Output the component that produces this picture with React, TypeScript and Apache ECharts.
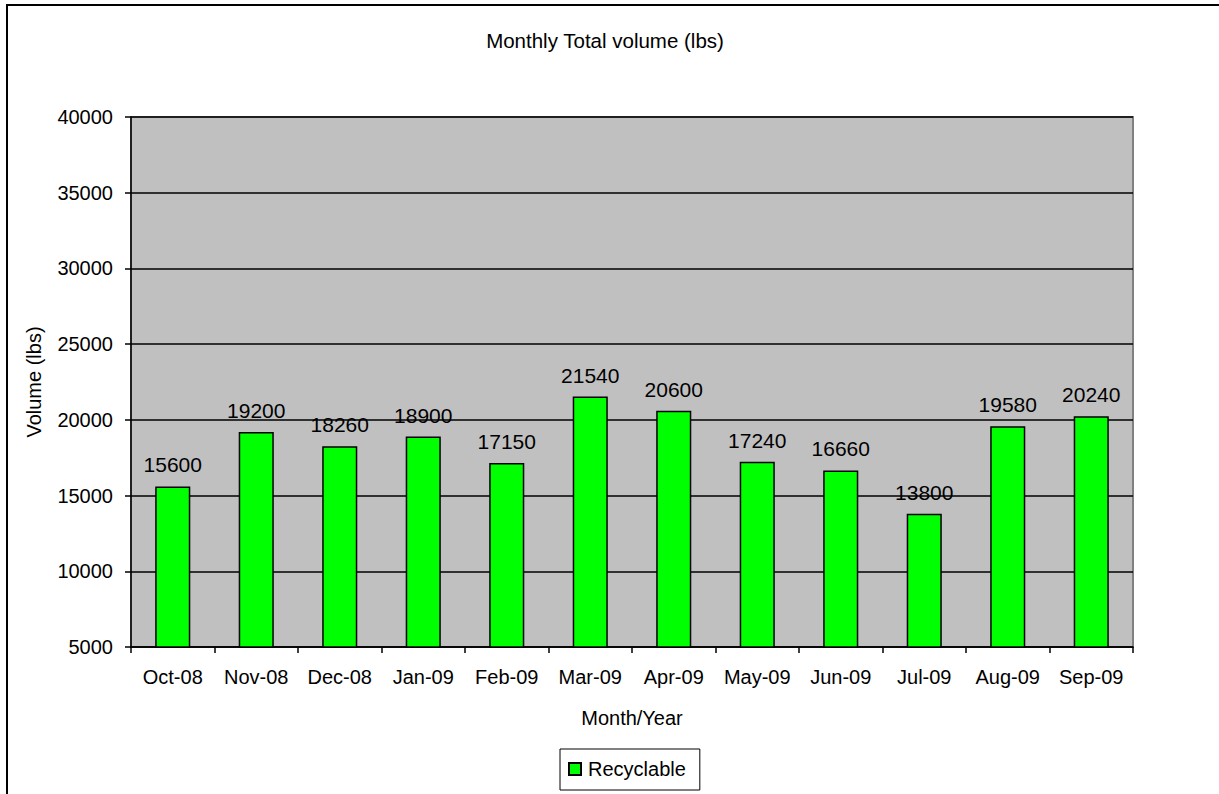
import React, { useEffect, useRef } from "react";
import * as echarts from "echarts";

const categories = ["Oct-08", "Nov-08", "Dec-08", "Jan-09", "Feb-09", "Mar-09", "Apr-09", "May-09", "Jun-09", "Jul-09", "Aug-09", "Sep-09"];
const recyclable = [15600, 19200, 18260, 18900, 17150, 21540, 20600, 17240, 16660, 13800, 19580, 20240];
const seriesName = "Recyclable";
const chartTitle = "Monthly Total volume (lbs)";
const yAxisName = "Volume (lbs)";
const xAxisName = "Month/Year";

const FONT = 'Arial, "Liberation Sans", sans-serif';

export default function App() {
  const ref = useRef<HTMLDivElement>(null);
  useEffect(() => {
    document.body.style.margin = "0";
    if (!ref.current) return;
    const chart = echarts.init(ref.current, null, { renderer: "svg" });
    chart.setOption({
      animation: false,
      backgroundColor: "#ffffff",
      textStyle: { fontFamily: FONT, color: "#000" },
      title: {
        text: chartTitle,
        left: 605,
        textAlign: "center",
        top: 30,
        padding: 0,
        textStyle: { fontFamily: FONT, fontSize: 20.5, fontWeight: "normal", color: "#000" },
      },
      graphic: [
        {
          type: "rect",
          shape: { x: 7, y: 5, width: 1400, height: 1000 },
          style: { fill: "none", stroke: "#000", lineWidth: 2 },
          silent: true,
          z: 100,
        },
      ],
      legend: {
        data: [seriesName],
        left: 560,
        top: 749,
        padding: [10, 14, 11, 8],
        itemWidth: 12,
        itemHeight: 12,
        itemGap: 0,
        icon: "rect",
        borderColor: "#000",
        borderWidth: 1,
        textStyle: { fontFamily: FONT, fontSize: 20, color: "#000", padding: [0, 0, 0, 2] },
      },
      grid: {
        left: 131,
        top: 117,
        right: 86,
        bottom: 147,
        show: true,
        backgroundColor: "#C0C0C0",
        borderColor: "#808080",
        borderWidth: 2,
      },
      xAxis: {
        type: "category",
        data: categories,
        name: xAxisName,
        nameLocation: "middle",
        nameGap: 61,
        nameTextStyle: { fontFamily: FONT, fontSize: 20, color: "#000" },
        axisLine: { lineStyle: { color: "#000", width: 1.5 } },
        axisTick: { show: true, length: 6, lineStyle: { color: "#000", width: 1.5 } },
        axisLabel: { fontFamily: FONT, fontSize: 20, color: "#000", margin: 20, interval: 0 },
      },
      yAxis: {
        type: "value",
        min: 5000,
        max: 40000,
        interval: 5000,
        name: yAxisName,
        nameLocation: "middle",
        nameGap: 87,
        nameRotate: 90,
        nameTextStyle: { fontFamily: FONT, fontSize: 20, color: "#000" },
        axisLine: { show: true, lineStyle: { color: "#000", width: 1.5 } },
        axisTick: { show: true, length: 6, lineStyle: { color: "#000", width: 1.5 } },
        axisLabel: { fontFamily: FONT, fontSize: 20, color: "#000", margin: 18, formatter: (v: number) => String(v) },
        splitLine: { show: true, lineStyle: { color: "#000", width: 1.5 } },
      },
      series: [
        {
          name: seriesName,
          type: "bar",
          data: recyclable,
          barWidth: "42%",
          itemStyle: { color: "#00FF00", borderColor: "#000", borderWidth: 1.5 },
          label: {
            show: true,
            position: "top",
            distance: 11,
            fontFamily: FONT,
            fontSize: 21,
            color: "#000",
          },
        },
      ],
    });
    return () => chart.dispose();
  }, []);
  return <div ref={ref} style={{ width: 1219, height: 794 }} />;
}
